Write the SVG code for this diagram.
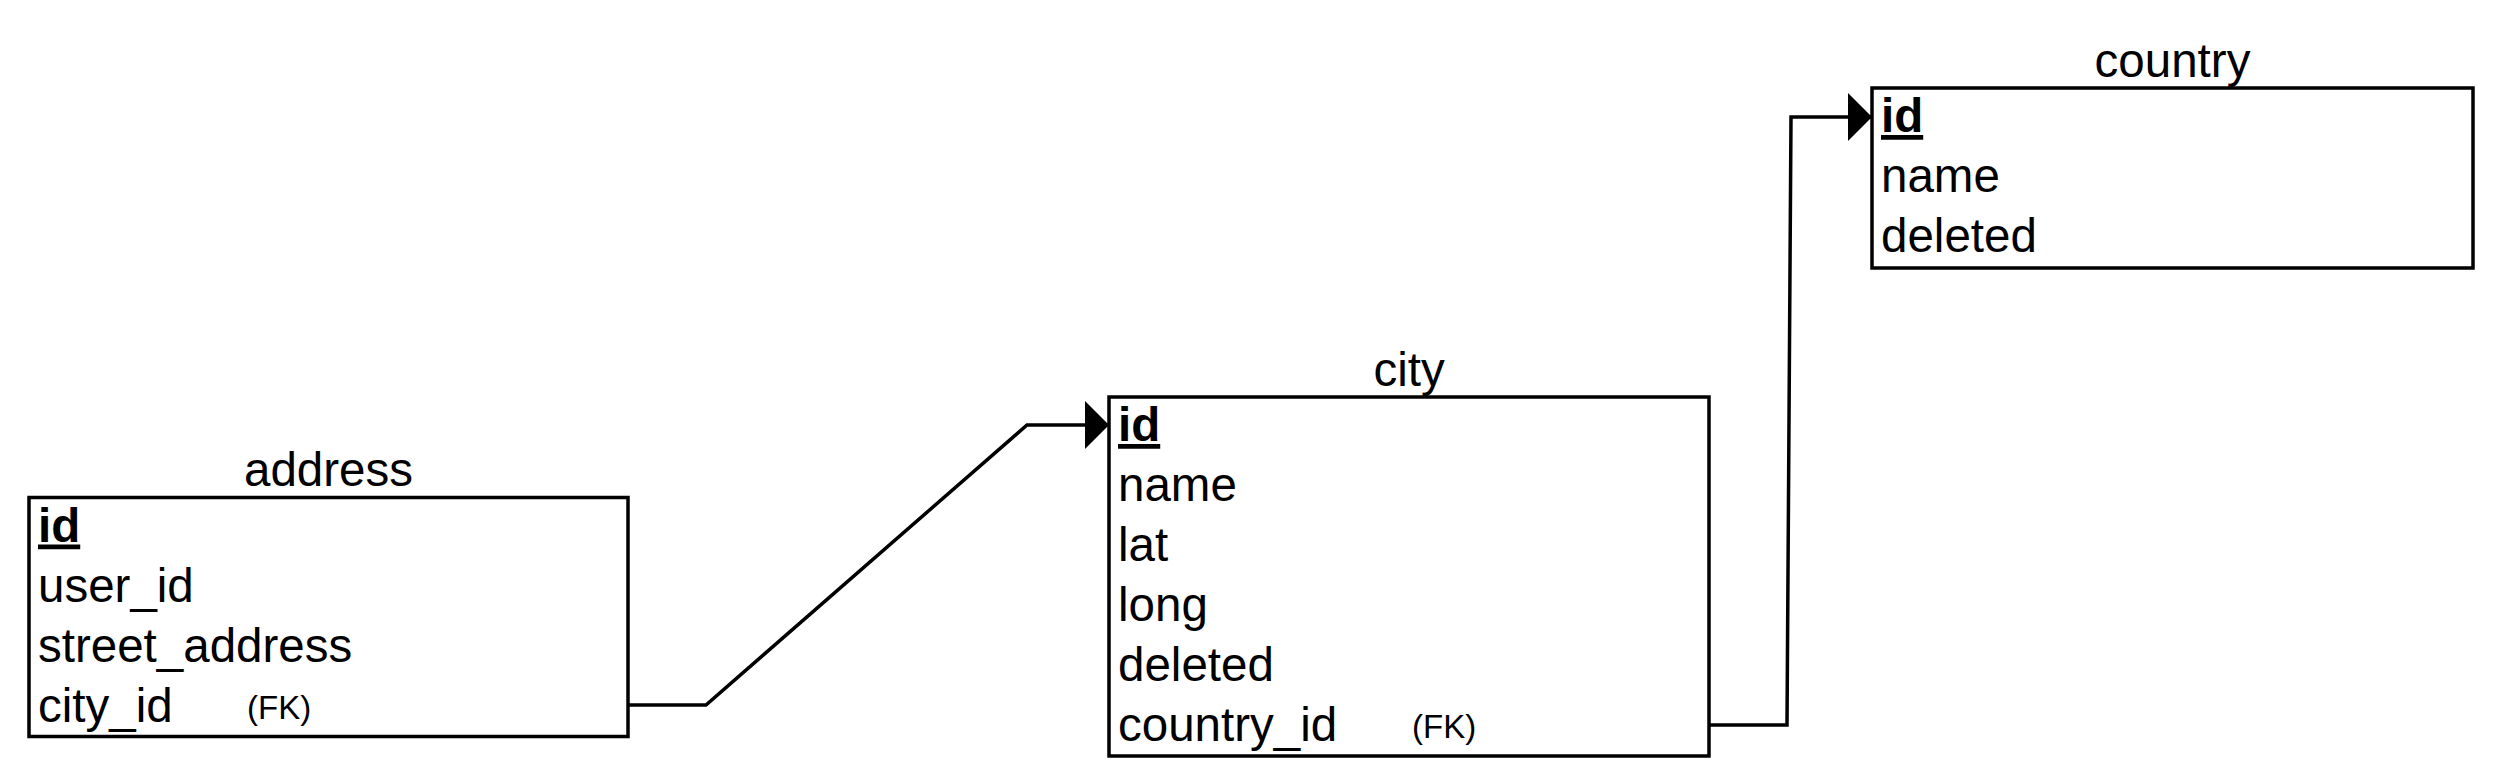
<svg xmlns="http://www.w3.org/2000/svg" width="2500" height="784" viewBox="0 0 2500 784">
<style>
.box{fill:#ffffff;stroke:#000000;stroke-width:3.5}
.t{font-family:"Liberation Sans",Arial,Helvetica,sans-serif;font-size:47.5px;fill:#000000}
.title{text-anchor:middle}
.pk{font-weight:bold;text-decoration:underline}
.fk{font-family:"Liberation Sans",Arial,Helvetica,sans-serif;font-size:33px;fill:#000000}
.conn{fill:none;stroke:#000000;stroke-width:3.5;stroke-linejoin:miter}
</style>
<defs>
<marker id="arrow" markerUnits="userSpaceOnUse" markerWidth="24" markerHeight="48" refX="24" refY="24" orient="auto" viewBox="0 0 24 48">
<path d="M0,0 L24,24 L0,48 Z" fill="#000000"/>
</marker>
</defs>
<rect x="0" y="0" width="2500" height="784" fill="#ffffff"/>
<g id="connectors">
<path class="conn" d="M628,705 L706,705 L1027,425 L1109,425" marker-end="url(#arrow)"/>
<path class="conn" d="M1709,725 L1787,725 L1791,117 L1872,117" marker-end="url(#arrow)"/>
</g>
<g id="address">
<text class="t title" x="328.5" y="486">address</text>
<rect class="box" x="29" y="497.5" width="599" height="239"/>
<text class="t pk" x="38" y="541.5">id</text>
<text class="t" x="38" y="601.5">user_id</text>
<text class="t" x="38" y="661.5">street_address</text>
<text class="t" x="38" y="721.5">city_id</text>
<text class="fk" x="247" y="719">(FK)</text>
</g>
<g id="city">
<text class="t title" x="1409" y="386">city</text>
<rect class="box" x="1109" y="397" width="600" height="359"/>
<text class="t pk" x="1118" y="441">id</text>
<text class="t" x="1118" y="501">name</text>
<text class="t" x="1118" y="561">lat</text>
<text class="t" x="1118" y="621">long</text>
<text class="t" x="1118" y="681">deleted</text>
<text class="t" x="1118" y="741">country_id</text>
<text class="fk" x="1412" y="738">(FK)</text>
</g>
<g id="country">
<text class="t title" x="2172.5" y="77">country</text>
<rect class="box" x="1872" y="88" width="601" height="180"/>
<text class="t pk" x="1881" y="132">id</text>
<text class="t" x="1881" y="192">name</text>
<text class="t" x="1881" y="252">deleted</text>
</g>
</svg>
